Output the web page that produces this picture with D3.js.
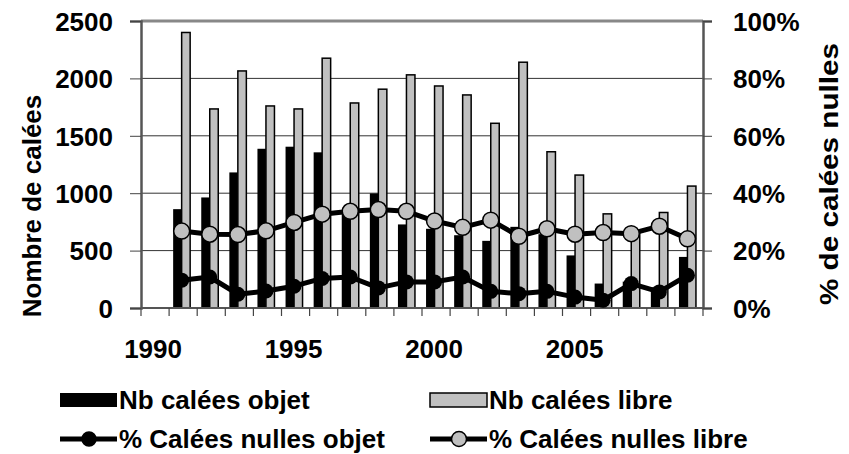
<!DOCTYPE html>
<html>
<head>
<meta charset="utf-8">
<title>Calées objet / libre</title>
<script src="https://d3js.org/d3.v7.min.js"></script>
<style>
body { margin: 0; background: #fff; }
svg text { font-family: Arial, "Liberation Sans", sans-serif; font-weight: bold; fill: #000; }
.grid line { stroke: #333; stroke-width: 1px; }
</style>
</head>
<body>
<svg id="chart" width="849" height="454"></svg>
<script>

var years = [1990, 1991, 1992, 1993, 1994, 1995, 1996, 1997, 1998, 1999,
             2000, 2001, 2002, 2003, 2004, 2005, 2006, 2007, 2008, 2009];
var yearLabels = [1990, 1995, 2000, 2005];

// nombre de calees (axe gauche)
var nbObjet = [null, 861, 963, 1181, 1387, 1405, 1356, 830, 998, 728,
               690, 634, 585, 707, 643, 458, 213, 230, 180, 445];
var nbLibre = [null, 2400, 1734, 2065, 1760, 1734, 2176, 1786, 1906, 2031,
               1934, 1856, 1609, 2141, 1361, 1158, 820, 650, 832, 1062];

// % calees nulles (axe droit)
var pctObjet = [null, 9.7, 10.8, 4.8, 5.9, 7.6, 10.3, 10.8, 7.0, 9.1,
                9.1, 10.8, 5.8, 5.0, 5.8, 3.8, 2.7, 8.5, 5.6, 11.4];
var pctLibre = [null, 26.8, 25.7, 25.6, 26.9, 29.8, 32.7, 33.7, 34.3, 33.7,
                30.3, 28.1, 30.6, 25.0, 27.6, 25.7, 26.3, 25.9, 28.5, 24.1];

var leftTicks = [0, 500, 1000, 1500, 2000, 2500];
var rightTicks = [0, 20, 40, 60, 80, 100];

var svg = d3.select("#chart");
var pLeft = 141, pRight = 703, pTop = 21, pBottom = 308;

var x = d3.scaleBand().domain(years).range([pLeft, pRight]);
var xs = d3.scaleBand().domain(["objet", "libre"]).range([0, 17]);
var y = d3.scaleLinear().domain([0, 2500]).range([pBottom, pTop]);
var y2 = d3.scaleLinear().domain([0, 100]).range([pBottom, pTop]);

function cx(i) { return x(years[i]) + x.bandwidth() / 2 - 1.5; }

// gridlines
svg.append("g").attr("class", "grid")
  .selectAll("line")
  .data(leftTicks.slice(1, 5))
  .enter().append("line")
    .attr("x1", pLeft).attr("x2", pRight)
    .attr("y1", function(d) { return y(d); })
    .attr("y2", function(d) { return y(d); });

svg.append("line")
  .attr("x1", pLeft).attr("x2", pRight)
  .attr("y1", pTop).attr("y2", pTop)
  .style("stroke", "#888").style("stroke-width", 3);

// bars
var bars = svg.append("g");
bars.selectAll("rect.objet")
  .data(years.filter(function(d, i) { return nbObjet[i] != null; }))
  .enter().append("rect")
    .attr("class", "objet")
    .attr("x", function(d) { return cx(years.indexOf(d)) - 8.5 + xs("objet"); })
    .attr("width", xs.bandwidth())
    .attr("y", function(d) { return y(nbObjet[years.indexOf(d)]); })
    .attr("height", function(d) { return pBottom - y(nbObjet[years.indexOf(d)]); })
    .style("fill", "#000");

bars.selectAll("rect.libre")
  .data(years.filter(function(d, i) { return nbLibre[i] != null; }))
  .enter().append("rect")
    .attr("class", "libre")
    .attr("x", function(d) { return cx(years.indexOf(d)) - 8.5 + xs("libre"); })
    .attr("width", xs.bandwidth())
    .attr("y", function(d) { return y(nbLibre[years.indexOf(d)]); })
    .attr("height", function(d) { return pBottom - y(nbLibre[years.indexOf(d)]); })
    .style("fill", "#c0c0c0")
    .style("stroke", "#000")
    .style("stroke-width", 1.5);

// axes
svg.append("line")
  .attr("x1", pLeft).attr("x2", pRight)
  .attr("y1", pBottom).attr("y2", pBottom)
  .style("stroke", "#555").style("stroke-width", 2);

svg.append("g").selectAll("line")
  .data(d3.range(years.length + 1))
  .enter().append("line")
    .attr("x1", function(d) { return pLeft + d * x.step(); })
    .attr("x2", function(d) { return pLeft + d * x.step(); })
    .attr("y1", pBottom).attr("y2", pBottom + 8)
    .style("stroke", "#444").style("stroke-width", 1.2);

svg.append("g").selectAll("text")
  .data(yearLabels)
  .enter().append("text")
    .attr("x", function(d) { return x(d) + x.bandwidth() / 2 - 2; })
    .attr("y", 358)
    .attr("text-anchor", "middle")
    .style("font-size", "26px")
    .text(function(d) { return d; });

var yAxis = d3.axisLeft(y).tickValues(leftTicks).tickSize(11).tickPadding(17)
  .tickFormat(d3.format("d"));
svg.append("g")
  .attr("transform", "translate(" + pLeft + ",0)")
  .call(yAxis)
  .attr("font-family", null).attr("font-size", null)
  .call(function(g) {
    g.select(".domain").style("stroke", "#555").style("stroke-width", 2.5);
    g.selectAll(".tick line").style("stroke", "#444");
    g.selectAll(".tick text").style("font-size", "26px").attr("dy", "0.36em");
  });

var yAxis2 = d3.axisRight(y2).tickValues(rightTicks).tickSize(9).tickPadding(21)
  .tickFormat(function(d) { return d + "%"; });
svg.append("g")
  .attr("transform", "translate(" + pRight + ",0)")
  .call(yAxis2)
  .attr("font-family", null).attr("font-size", null)
  .call(function(g) {
    g.select(".domain").style("stroke", "#555").style("stroke-width", 2.5);
    g.selectAll(".tick line").style("stroke", "#444");
    g.selectAll(".tick text").style("font-size", "26px").attr("dy", "0.36em");
  });

// lines
var line = function(vals) {
  return d3.line()
    .defined(function(d, i) { return vals[i] != null; })
    .x(function(d, i) { return cx(i); })
    .y(function(d, i) { return y2(vals[i]); })(years);
};

svg.append("path")
  .attr("d", line(pctLibre))
  .style("fill", "none").style("stroke", "#000").style("stroke-width", 5)
  .style("stroke-linejoin", "round");

svg.append("g").selectAll("circle")
  .data(years.filter(function(d, i) { return pctLibre[i] != null; }))
  .enter().append("circle")
    .attr("cx", function(d) { return cx(years.indexOf(d)); })
    .attr("cy", function(d) { return y2(pctLibre[years.indexOf(d)]); })
    .attr("r", 8)
    .style("fill", "#c0c0c0").style("stroke", "#000").style("stroke-width", 1.5);

svg.append("path")
  .attr("d", line(pctObjet))
  .style("fill", "none").style("stroke", "#000").style("stroke-width", 5)
  .style("stroke-linejoin", "round");

svg.append("g").selectAll("circle")
  .data(years.filter(function(d, i) { return pctObjet[i] != null; }))
  .enter().append("circle")
    .attr("cx", function(d) { return cx(years.indexOf(d)); })
    .attr("cy", function(d) { return y2(pctObjet[years.indexOf(d)]); })
    .attr("r", 7.5)
    .style("fill", "#000");

// axis titles
svg.append("text")
  .attr("transform", "translate(41,206) rotate(-90)")
  .attr("text-anchor", "middle")
  .style("font-size", "26px")
  .text("Nombre de calées");

svg.append("text")
  .attr("transform", "translate(838,174) rotate(-90)")
  .attr("text-anchor", "middle")
  .style("font-size", "26px")
  .attr("textLength", 262).attr("lengthAdjust", "spacingAndGlyphs")
  .text("% de calées nulles");

// legend
var legendNames = ["Nb calées objet", "Nb calées libre", "% Calées nulles objet", "% Calées nulles libre"];
var lg = svg.append("g");
var lx = [60, 430], ly = [400, 439];

legendNames.forEach(function(name, i) {
  var gx = lx[i % 2], gy = ly[Math.floor(i / 2)];
  if (i < 2) {
    lg.append("rect")
      .attr("x", gx).attr("y", gy - 7).attr("width", 57).attr("height", 14)
      .style("fill", i == 0 ? "#000" : "#c0c0c0")
      .style("stroke", "#000").style("stroke-width", i == 0 ? 0 : 1.5);
  } else {
    lg.append("line")
      .attr("x1", gx).attr("x2", gx + 57).attr("y1", gy).attr("y2", gy)
      .style("stroke", "#000").style("stroke-width", 5);
    lg.append("circle")
      .attr("cx", gx + 29).attr("cy", gy).attr("r", i == 2 ? 7 : 7.5)
      .style("fill", i == 2 ? "#000" : "#c0c0c0")
      .style("stroke", "#000").style("stroke-width", 1.5);
  }
  lg.append("text")
    .attr("x", gx + 59).attr("y", gy + 9)
    .style("font-size", "26px")
    .text(name);
});

</script>
</body>
</html>
